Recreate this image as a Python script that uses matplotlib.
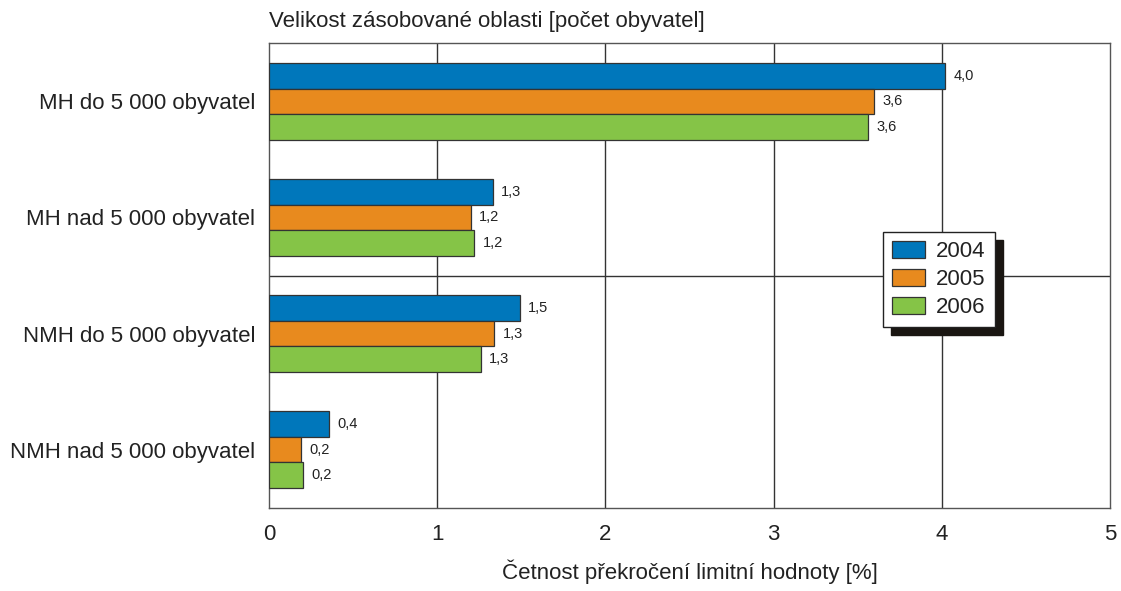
import numpy as np
import matplotlib
matplotlib.use('Agg')
import matplotlib.pyplot as plt

plt.rcParams['font.family'] = ['Liberation Sans', 'DejaVu Sans']

categories = ['MH do 5 000 obyvatel', 'MH nad 5 000 obyvatel',
              'NMH do 5 000 obyvatel', 'NMH nad 5 000 obyvatel']
years = ['2004', '2005', '2006']
v2004 = [4.02, 1.33, 1.49, 0.36]
v2005 = [3.60, 1.20, 1.34, 0.19]
v2006 = [3.56, 1.22, 1.26, 0.20]
colors = ['#0077bb', '#e88a1e', '#85c447']

fig = plt.figure(figsize=(11.21, 5.91), dpi=100)
ax = fig.add_axes([0.2399, 0.1409, 0.7502, 0.7858])

y = np.arange(len(categories))
h = 0.22
series = [v2004, v2005, v2006]
for k, (vals, yr, c) in enumerate(zip(series, years, colors)):
    pos = y + (k - 1) * h
    ax.barh(pos, vals, height=h, color=c, edgecolor='#333333', linewidth=0.9,
            label=yr, zorder=3)
    for p, v in zip(pos, vals):
        ax.annotate(f'{v:.1f}'.replace('.', ','), (v, p), xytext=(6, 0),
                    textcoords='offset points', va='center', ha='left',
                    fontsize=10.5, color='#222222')

ax.set_xlim(0, 5)
ax.set_ylim(3.5, -0.5)
ax.set_yticks(y)
ax.set_yticklabels(categories, fontsize=16, color='#222222')
ax.set_xticks(range(6))
ax.set_xticklabels([str(i) for i in range(6)], fontsize=16, color='#222222')
ax.tick_params(axis='x', length=0, pad=12)
ax.tick_params(axis='y', length=0, pad=10)
for xv in range(1, 5):
    ax.axvline(xv, color='#333333', lw=1, zorder=1)
ax.axhline(1.5, color='#333333', lw=1, zorder=1)
for s in ax.spines.values():
    s.set_color('#555555')
    s.set_linewidth(1)

ax.text(0, 1.025, 'Velikost zásobované oblasti [počet obyvatel]', transform=ax.transAxes,
        fontsize=16, color='#222222', ha='left', va='bottom')
fig.text(0.6155, 0.032, 'Četnost překročení limitní hodnoty [%]', fontsize=16,
         color='#222222', ha='center', va='center')

leg = ax.legend(loc='upper left', bbox_to_anchor=(0.730, 0.594), fontsize=16,
                frameon=True, fancybox=False, handlelength=1.5, handleheight=0.8,
                handletextpad=0.5, labelspacing=0.3, borderpad=0.4, borderaxespad=0,
                shadow={'ox': 5.8, 'oy': -5.8, 'facecolor': '#1a1612',
                        'edgecolor': '#1a1612', 'alpha': 1})
leg.get_frame().set_edgecolor('#222222')
leg.get_frame().set_linewidth(1)
leg.get_frame().set_alpha(1)
for t in leg.get_texts():
    t.set_color('#222222')

fig.savefig('out.png', dpi=100)
